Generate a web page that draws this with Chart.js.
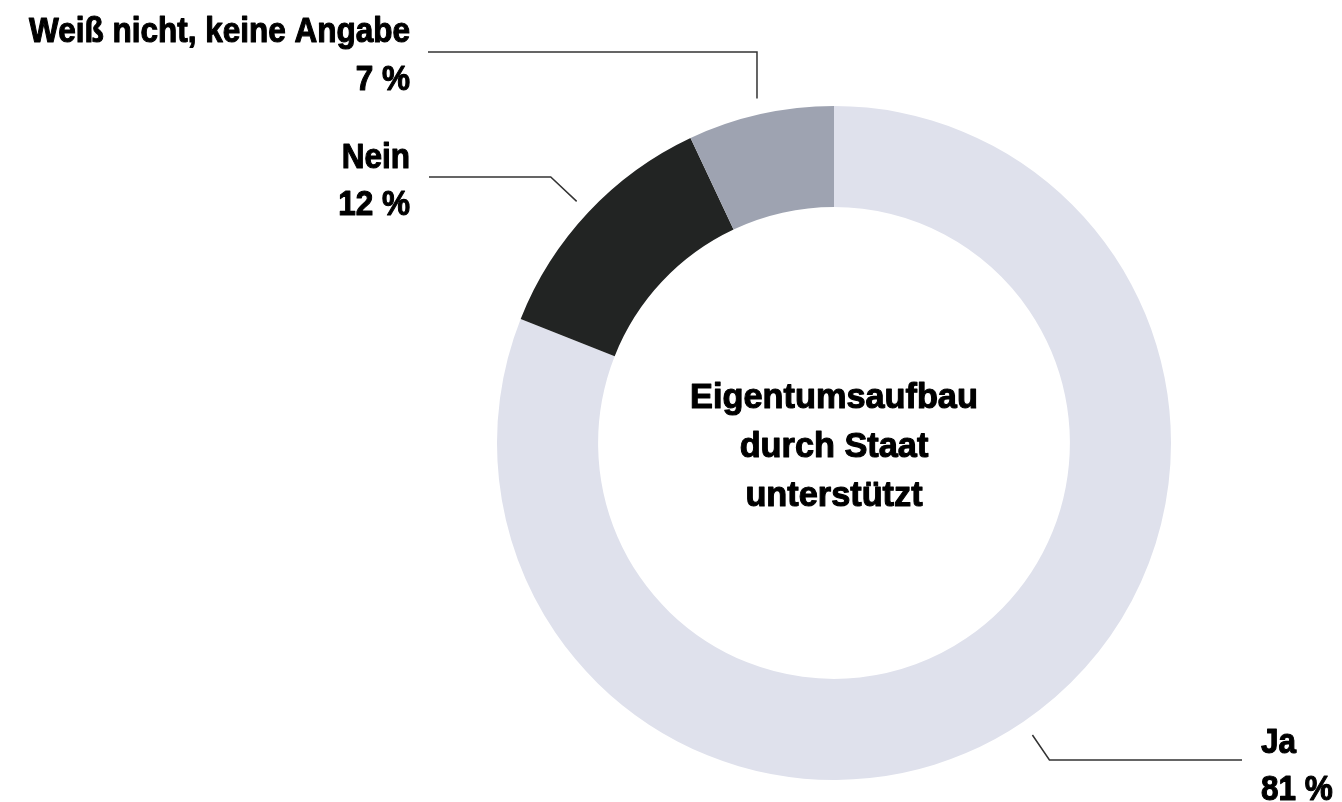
<!DOCTYPE html>
<html lang="de">
<head>
<meta charset="utf-8">
<title>Eigentumsaufbau durch Staat unterstützt</title>
<script src="https://cdn.jsdelivr.net/npm/chart.js@4"></script>
<style>
  html, body { margin: 0; padding: 0; background: #fff; }
  #wrap { width: 1342px; height: 802px; }
</style>
</head>
<body>
<div id="wrap"><canvas id="donut-chart"></canvas></div>
<script>
// Daten
const categories = ["Ja", "Nein", "Weiß nicht, keine Angabe"];
const shares = [81, 12, 7];
const sliceColors = ["#dfe1ec", "#222423", "#9ea3b1"];
const centerLines = ["Eigentumsaufbau", "durch Staat", "unterstützt"];

// Beschriftungen (Position der Texte, Führungslinien)
const labelLayout = [
  { align: "left", textX: 1261, baselines: [753, 800], lineY: 760, lineEnd: 1242, vertical: false },
  { align: "right", textX: 410, baselines: [168, 215], lineY: 177, lineEnd: 429, vertical: false },
  { align: "right", textX: 410, baselines: [42, 90], lineY: 52, lineEnd: 428, vertical: true },
];

const FONT = "bold 35px 'Liberation Sans', Arial, sans-serif";

// Text leicht gestaucht und etwas fetter zeichnen
function drawText(ctx, text, x, y, align, scaleX) {
  ctx.save();
  ctx.translate(x, y);
  ctx.scale(scaleX, 1);
  ctx.textAlign = align;
  ctx.textBaseline = "alphabetic";
  ctx.lineWidth = 1.1;
  ctx.lineJoin = "round";
  ctx.strokeStyle = ctx.fillStyle;
  ctx.fillText(text, 0, 0);
  ctx.strokeText(text, 0, 0);
  ctx.restore();
}

const donutLabels = {
  id: "donutLabels",
  afterDraw(chart) {
    const ctx = chart.ctx;
    const arcs = chart.getDatasetMeta(0).data;
    ctx.save();
    ctx.font = FONT;
    ctx.fillStyle = "#000";

    arcs.forEach((arc, i) => {
      const p = arc.getProps(["x", "y", "startAngle", "endAngle", "outerRadius"], true);
      const mid = (p.startAngle + p.endAngle) / 2;
      const ax = p.x + Math.cos(mid) * (p.outerRadius + 16);
      const ay = p.y + Math.sin(mid) * (p.outerRadius + 16);
      const lay = labelLayout[i];

      // Knickpunkt auf Höhe der Linie
      let ex = ax;
      if (!lay.vertical) {
        const t = (lay.lineY - ay) / Math.sin(mid);
        ex = ax + Math.cos(mid) * t;
      }

      ctx.beginPath();
      ctx.strokeStyle = "#333";
      ctx.lineWidth = 1.5;
      ctx.moveTo(ax, ay);
      ctx.lineTo(ex, lay.lineY);
      ctx.lineTo(lay.lineEnd, lay.lineY);
      ctx.stroke();

      drawText(ctx, categories[i], lay.textX, lay.baselines[0], lay.align, 0.9);
      drawText(ctx, shares[i] + " %", lay.textX, lay.baselines[1], lay.align, 0.9);
    });

    // Text in der Mitte
    const c = arcs[0].getProps(["x", "y"], true);
    const offsets = [-35, 14, 63];
    centerLines.forEach((line, i) => {
      drawText(ctx, line, c.x, c.y + offsets[i], "center", 0.98);
    });
    ctx.restore();
  },
};

new Chart(document.getElementById("donut-chart"), {
  type: "doughnut",
  plugins: [donutLabels],
  data: {
    labels: categories,
    datasets: [
      {
        data: shares,
        backgroundColor: sliceColors,
        borderWidth: 0,
        hoverOffset: 0,
      },
    ],
  },
  options: {
    responsive: true,
    maintainAspectRatio: false,
    animation: false,
    cutout: "70%",
    layout: { padding: { top: 106, bottom: 22, left: 497, right: 171 } },
    plugins: {
      legend: { display: false },
      tooltip: { enabled: false },
    },
  },
});
</script>
</body>
</html>
